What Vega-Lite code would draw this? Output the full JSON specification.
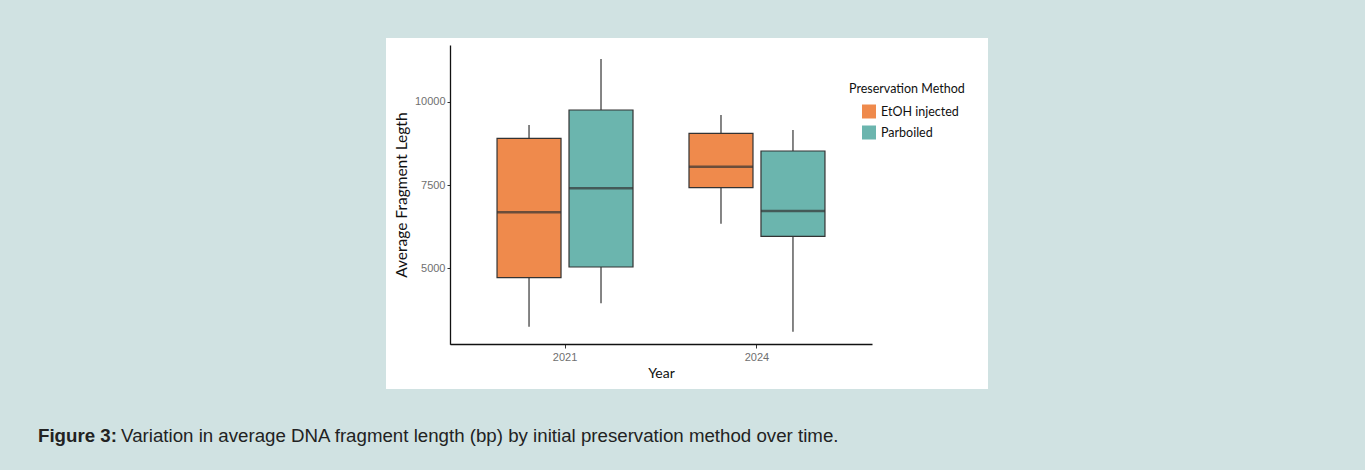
{
  "$schema": "https://vega.github.io/schema/vega-lite/v6.json",
  "width": 602,
  "height": 351,
  "autosize": {"type": "none"},
  "padding": {"left": 386, "top": 38, "right": 377, "bottom": 81},
  "background": "#d0e2e2",
  "config": {"view": {"fill": "white", "stroke": null}},
  "data": {
    "values": [
      {"Year": "2021", "Method": "EtOH injected", "lower": 3247, "q1": 4718, "median": 6681, "q3": 8902, "upper": 9301},
      {"Year": "2021", "Method": "Parboiled", "lower": 3950, "q1": 5039, "median": 7401, "q3": 9751, "upper": 11282},
      {"Year": "2024", "Method": "EtOH injected", "lower": 6339, "q1": 7419, "median": 8049, "q3": 9052, "upper": 9601},
      {"Year": "2024", "Method": "Parboiled", "lower": 3097, "q1": 5960, "median": 6720, "q3": 8520, "upper": 9151}
    ]
  },
  "title": {
    "text": "Figure 3:",
    "subtitle": "\u200b\u00a0\u00a0\u00a0\u00a0\u00a0\u00a0\u00a0\u00a0\u00a0\u00a0\u00a0\u00a0\u00a0\u00a0\u00a0\u00a0Variation in average DNA fragment length (bp) by initial preservation method over time.",
    "orient": "bottom",
    "anchor": "start",
    "frame": "bounds",
    "dx": -348,
    "offset": 38,
    "font": "Liberation Sans",
    "fontSize": 18.7,
    "fontWeight": "bold",
    "color": "#222222",
    "subtitleFont": "Liberation Sans",
    "subtitleFontSize": 18.7,
    "subtitleFontWeight": "normal",
    "subtitleColor": "#222222",
    "subtitlePadding": -18.7
  },
  "encoding": {
    "x": {
      "field": "Year",
      "type": "nominal",
      "scale": {"range": [64, 486], "paddingInner": 0.2917, "paddingOuter": 0.245},
      "axis": {
        "offset": -45,
        "labelAngle": 0,
        "domainColor": "#111111",
        "domainWidth": 1.3,
        "tickColor": "#333333",
        "tickSize": 4,
        "labelColor": "#6f6f6f",
        "labelFont": "Liberation Sans",
        "labelFontSize": 11,
        "labelPadding": 3,
        "title": "Year",
        "titleFont": "Lato",
        "titleFontSize": 14,
        "titleFontWeight": "normal",
        "titleColor": "#111111",
        "titlePadding": 4
      }
    },
    "xOffset": {
      "field": "Method",
      "type": "nominal",
      "scale": {"paddingInner": 0.111, "paddingOuter": 0}
    }
  },
  "layer": [
    {
      "mark": {"type": "rule", "color": "#333333", "strokeWidth": 1.2},
      "encoding": {
        "y": {
          "field": "lower",
          "type": "quantitative",
          "title": "Average Fragment Legth",
          "scale": {"domain": [2719, 11702], "range": [306.3, 7], "nice": false, "zero": false},
          "axis": {
            "offset": -64,
            "values": [5000, 7500, 10000],
            "format": "d",
            "grid": false,
            "domainColor": "#111111",
            "domainWidth": 1.3,
            "tickColor": "#333333",
            "tickSize": 3,
            "labelColor": "#6f6f6f",
            "labelFont": "Liberation Sans",
            "labelFontSize": 11,
            "labelPadding": 2,
            "titleFont": "Lato",
            "titleFontSize": 15.5,
            "titleFontWeight": "normal",
            "titleColor": "#111111",
            "titlePadding": 5
          }
        },
        "y2": {"field": "upper"}
      }
    },
    {
      "mark": {"type": "bar", "stroke": "#333333", "strokeWidth": 1.2},
      "encoding": {
        "y": {"field": "q1", "type": "quantitative", "title": "Average Fragment Legth"},
        "y2": {"field": "q3"},
        "fill": {
          "field": "Method",
          "type": "nominal",
          "scale": {"domain": ["EtOH injected", "Parboiled"], "range": ["#ef8a4c", "#6bb5ae"]},
          "legend": {
            "title": "Preservation Method",
            "orient": "none",
            "legendX": 463,
            "legendY": 45,
            "symbolType": "square",
            "symbolSize": 196,
            "symbolStrokeWidth": 0,
            "symbolOffset": 13,
            "labelOffset": 5,
            "titleFont": "Lato",
            "titleFontSize": 12.5,
            "titleFontWeight": "normal",
            "titleColor": "#111111",
            "titlePadding": 9,
            "labelFont": "Lato",
            "labelFontSize": 12.5,
            "labelColor": "#111111",
            "rowPadding": 7
          }
        }
      }
    },
    {
      "mark": {"type": "tick", "color": "#333333", "thickness": 2.5, "size": 64},
      "encoding": {
        "y": {"field": "median", "type": "quantitative", "title": "Average Fragment Legth"}
      }
    }
  ]
}
